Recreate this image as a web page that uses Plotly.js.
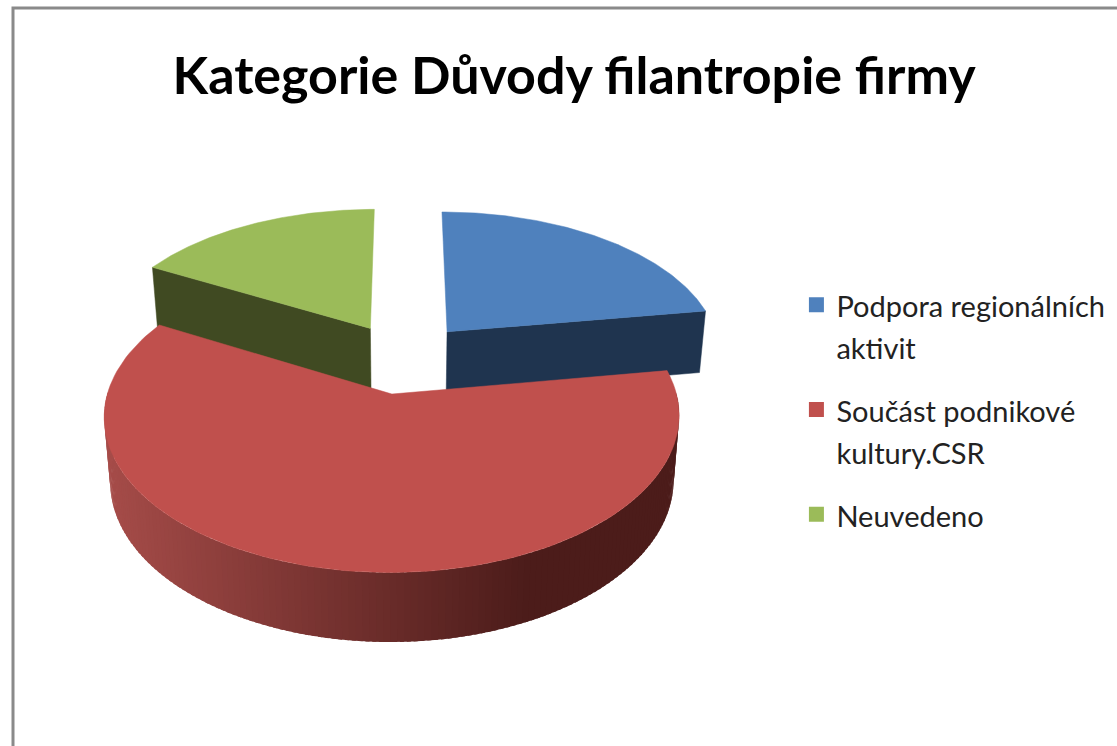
<!DOCTYPE html>
<html><head><meta charset="utf-8">
<script src="https://cdn.plot.ly/plotly-3.0.1.min.js"></script>
<style>html,body{margin:0;padding:0;background:#fff}#c{width:1117px;height:746px}</style>
</head><body><div id="c"></div>
<script>
const categories = ["Podpora regionálních<br>aktivit", "Součást podnikové<br>kultury.CSR", "Neuvedeno"];
const values = [22.5, 60.5, 17];
const topColors = ["#4f81bd", "#c0504d", "#9bbb59"];
const wallColors = ["#1f344f", "#4f1d1b", "#404a22"];

const W = 1117, H = 746;
const cx = 404, cy = 358, R = 275, tilt = 0.52, pull = 68, depth = 63, cam = 2000, dropShrink = 0.98;
function proj(px, py, drop) {
  const s = cam / (cam + py);
  return [cx + px * s * (drop ? dropShrink : 1), cy - py * tilt * s + (drop ? depth * (1 + (s - 1) * 0.5) : 0)];
}
function sliceGeom(i) {
  const total = values.reduce((a, b) => a + b, 0);
  let start = 0;
  for (let k = 0; k < i; k++) start += values[k] / total * 2 * Math.PI;
  const end = start + values[i] / total * 2 * Math.PI;
  const mid = (start + end) / 2;
  return {start, end, ox: pull * Math.sin(mid), oy: pull * Math.cos(mid)};
}
function rim(g, a) { return [g.ox + R * Math.sin(a), g.oy + R * Math.cos(a)]; }
function poly(points, color, w) {
  return {type: "scatter", mode: "lines", x: points.map(p => p[0]), y: points.map(p => p[1]),
    fill: "toself", fillcolor: color, line: {color: color, width: w === undefined ? 0.5 : w}, hoverinfo: "skip", showlegend: false};
}
function mix(a, b, t) {
  const h = c => [1, 3, 5].map(j => parseInt(c.substr(j, 2), 16));
  const A = h(a), B = h(b);
  return "rgb(" + A.map((v, j) => Math.round(v + (B[j] - v) * t)).join(",") + ")";
}
const traces = [];
function topFace(i) {
  const g = sliceGeom(i), pts = [proj(g.ox, g.oy)];
  for (let k = 0; k <= 120; k++) { const r = rim(g, g.start + (g.end - g.start) * k / 120); pts.push(proj(r[0], r[1])); }
  pts.push(proj(g.ox, g.oy));
  return poly(pts, topColors[i]);
}
function cutWall(i, a) {
  const g = sliceGeom(i), r = rim(g, a);
  return poly([proj(g.ox, g.oy), proj(r[0], r[1]), proj(r[0], r[1], true), proj(g.ox, g.oy, true), proj(g.ox, g.oy)], wallColors[i]);
}
// back slices first, then the big front slice
traces.push(cutWall(0, sliceGeom(0).end));
traces.push(cutWall(2, sliceGeom(2).start));
traces.push(topFace(0));
traces.push(topFace(2));
// outer wall of the front slice, shaded in strips
(function () {
  const g = sliceGeom(1), n = 150;
  const a0 = Math.PI / 2 - 0.02, a1 = 3 * Math.PI / 2 + 0.02;
  for (let k = 0; k < n; k++) {
    const u = a0 + (a1 - a0) * k / n, v = a0 + (a1 - a0) * Math.min(n, k + 1.6) / n;
    const ru = rim(g, u), rv = rim(g, v);
    const t = (proj(ru[0], ru[1])[0] - 105) / 425;
    const col = mix("#a64c49", "#4c1c1a", Math.min(1, Math.max(0, t)));
    traces.push(poly([proj(ru[0], ru[1]), proj(rv[0], rv[1]), proj(rv[0], rv[1], true), proj(ru[0], ru[1], true), proj(ru[0], ru[1])], col, 0));
  }
})();
traces.push(topFace(1));
// legend entries
categories.forEach((c, i) => traces.push({type: "scatter", mode: "markers", x: [null], y: [null],
  name: '<span style="font-size:29px">' + c.replace("<br>", '</span><br><span style="font-size:29px">') + "</span>",
  legendgroup: "g" + i,
  marker: {symbol: "square", size: 15, color: topColors[i]}, hoverinfo: "skip"}));

const layout = {
  width: W, height: H, margin: {l: 0, r: 0, t: 0, b: 0}, paper_bgcolor: "#fff", plot_bgcolor: "#fff",
  font: {family: "Lato, Open Sans, sans-serif", color: "#222"},
  title: {text: "<b>Kategorie Důvody filantropie firmy</b>", x: 0.514, xanchor: "center", y: 0.874, yanchor: "bottom",
    font: {family: "Lato, sans-serif", size: 52, color: "#000"}},
  xaxis: {range: [0, W], visible: false, fixedrange: true},
  yaxis: {range: [H, 0], visible: false, fixedrange: true},
  legend: {x: 0.713, y: 0.628, xanchor: "left", yanchor: "top", font: {size: 32, color: "#222"},
    itemsizing: "trace", valign: "top", tracegroupgap: 18.5, bgcolor: "rgba(0,0,0,0)"},
  shapes: [{type: "rect", xref: "paper", yref: "paper", x0: 13 / W, x1: 1.01, y0: -0.01, y1: 1 - 8 / H,
    line: {color: "#8a8a8a", width: 3}}]
};
Plotly.newPlot("c", traces, layout, {displayModeBar: false, staticPlot: true});
</script></body></html>
